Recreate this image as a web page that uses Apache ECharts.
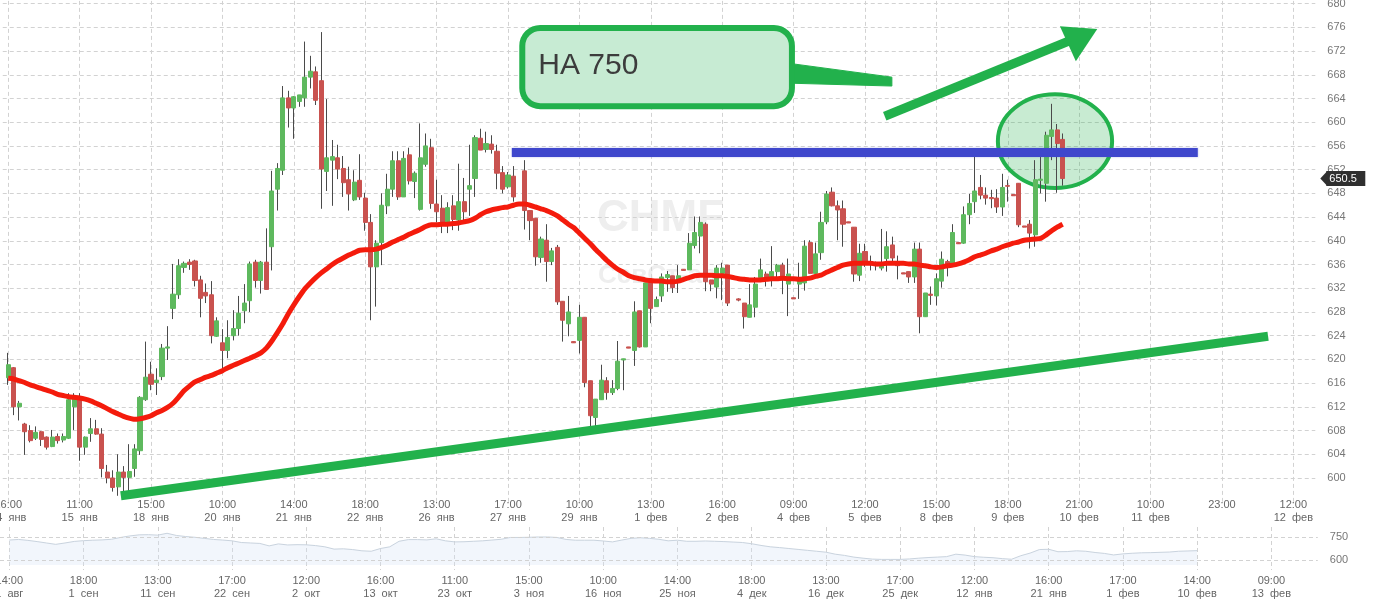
<!DOCTYPE html>
<html><head><meta charset="utf-8">
<script src="https://cdn.jsdelivr.net/npm/echarts@6/dist/echarts.min.js"></script>
<style>html,body{margin:0;padding:0;background:#fff}#c{width:1380px;height:604px}</style>
</head><body><div id="c"></div>
<script>
// ---- DATA ----
const opens = [616.9,618.6,612.0,609.1,608.0,606.7,607.8,606.9,605.3,607.0,
606.4,606.7,612.0,613.7,605.2,607.5,608.3,607.4,601.0,600.0,
598.5,601.0,600.1,601.6,604.6,613.2,617.5,616.1,617.1,621.9,
628.6,630.9,635.5,636.4,636.6,633.4,631.3,630.9,623.9,622.8,
621.5,624.0,625.2,628.2,629.9,636.4,633.3,636.4,639.0,648.7,
651.9,664.1,662.4,663.5,664.1,667.6,668.5,667.0,651.7,653.6,
654.0,652.2,650.3,646.9,650.2,647.2,643.1,635.6,639.7,645.9,
648.7,653.5,647.4,654.5,650.0,645.3,652.9,655.7,646.2,645.5,
643.2,645.9,643.5,646.6,648.7,650.5,657.3,655.4,656.3,655.1,
651.5,649.1,650.9,null,651.8,645.1,643.8,637.2,640.1,636.5,
638.9,629.8,626.0,623.0,623.2,627.1,616.4,610.2,613.2,616.4,
614.4,615.1,619.9,622.1,621.5,628.2,622.1,632.9,628.9,630.7,
633.8,634.1,633.2,635.2,635.1,639.2,640.8,642.8,633.4,632.2,
634.5,635.9,null,630.2,629.5,627.1,628.8,633.8,634.4,633.8,
634.8,635.9,632.7,630.4,632.7,632.9,639.7,634.5,638.0,643.2,
648.2,645.9,645.4,643.2,642.3,634.2,638.2,636.5,636.0,635.4,
637.0,639.3,636.5,634.6,634.8,633.9,638.6,627.2,631.0,630.7,
633.2,636.5,636.2,639.7,639.6,644.4,646.6,649.0,647.7,647.3,
647.2,645.7,649.3,647.8,649.7,642.5,642.8,641.0,650.2,649.7,
657.6,658.7,657.1];
const closes = [619.1,612.0,612.6,607.8,606.3,607.7,606.5,605.2,606.9,606.3,
607.0,613.2,613.4,605.2,606.9,608.3,607.4,601.6,600.0,598.4,
601.0,600.1,601.1,604.9,613.6,617.0,615.8,616.5,621.9,622.1,
631.0,635.8,636.2,636.0,633.3,630.3,630.7,624.0,626.5,621.5,
623.7,625.2,627.8,629.5,636.1,633.3,636.4,631.8,648.4,652.2,
664.1,662.4,664.3,664.6,667.6,668.6,663.7,652.1,654.0,654.2,
652.1,649.8,647.9,649.9,647.4,643.1,635.6,639.6,646.0,648.7,
653.5,647.4,653.9,650.1,651.4,654.0,656.0,646.3,644.9,643.1,
645.6,643.6,646.6,644.9,649.3,657.4,655.3,656.4,655.4,651.4,
648.7,651.1,647.4,null,645.1,643.4,637.3,640.3,636.5,638.3,
629.7,626.6,628.0,622.8,627.1,616.1,610.5,613.3,616.5,614.4,
615.1,619.7,620.1,621.9,628.0,622.1,632.9,628.6,630.1,633.9,
634.3,632.1,634.1,635.0,639.6,641.4,643.1,633.1,632.7,635.4,
635.4,629.5,null,630.0,627.2,629.2,632.7,635.1,633.8,634.8,
635.9,633.9,634.4,630.2,633.8,639.1,634.5,637.8,643.1,647.9,
645.9,645.2,642.8,643.0,634.4,637.9,636.5,636.0,635.8,636.0,
639.0,637.1,635.8,634.4,633.9,638.6,627.2,631.2,630.8,633.6,
636.9,635.9,641.4,639.5,644.4,646.3,648.4,647.7,647.2,647.1,
645.7,649.0,649.2,647.6,642.7,642.3,641.3,650.3,650.4,657.8,
658.7,656.4,650.5];
const lows = [615.7,610.6,609.7,603.9,606.0,606.4,605.4,604.8,605.2,605.8,
606.0,606.6,608.1,602.9,603.9,606.1,607.3,600.1,599.1,597.7,
597.0,597.0,597.0,600.2,603.9,613.0,614.8,614.0,616.5,619.9,
626.8,630.2,634.6,635.1,632.3,627.1,629.5,622.7,623.8,618.2,
620.2,623.2,624.0,626.1,628.0,632.1,631.1,631.8,635.0,645.1,
651.1,659.1,657.2,662.6,662.6,665.7,662.9,645.4,648.4,645.9,
650.4,647.4,645.1,646.7,646.9,641.7,626.6,628.9,635.9,644.5,
647.4,646.9,647.4,649.5,647.2,645.1,652.5,645.4,643.1,641.3,
641.3,641.8,641.7,643.0,644.2,647.4,655.3,654.9,654.7,648.7,
648.0,648.8,646.6,null,641.9,640.1,635.8,636.3,633.1,635.9,
629.2,623.0,623.9,622.8,621.0,615.3,608.7,608.4,613.2,613.2,
614.0,614.8,614.8,621.9,618.9,622.0,622.1,626.1,628.9,629.7,
631.4,631.2,631.2,635.0,635.1,638.7,637.9,631.5,631.5,630.3,
630.0,629.0,null,629.8,625.2,627.1,627.1,633.4,632.3,632.3,
633.5,631.0,627.3,630.2,630.2,631.6,634.4,633.9,636.8,642.8,
645.8,640.1,639.0,643.0,633.1,633.2,635.6,635.0,635.0,635.0,
634.8,636.3,633.5,634.4,632.9,632.9,624.4,627.2,629.2,629.1,
632.1,634.0,635.6,639.5,639.5,642.8,644.7,647.0,646.1,645.5,
644.7,644.2,646.6,647.6,642.3,642.3,638.7,639.0,648.0,646.6,
653.6,648.1,649.3];
const highs = [621.1,618.7,613.0,609.3,608.9,608.7,607.9,607.0,608.1,607.5,
607.5,614.3,614.3,614.3,607.0,610.1,609.8,608.4,602.2,601.3,
604.0,602.0,605.7,605.7,613.8,623.0,619.6,618.5,622.6,625.6,
636.1,636.9,636.5,636.9,636.8,634.1,632.8,633.2,627.1,625.1,
626.6,628.3,630.7,632.7,636.5,636.8,636.6,642.1,651.8,653.1,
666.1,665.3,664.4,664.6,673.6,671.2,669.4,675.2,663.9,657.0,
656.2,654.3,652.5,651.9,654.6,648.1,644.5,640.1,648.0,651.3,
655.1,655.1,655.1,655.7,651.7,659.8,658.1,657.2,650.3,647.7,
646.5,647.7,653.0,650.6,656.2,657.8,658.9,658.4,657.8,656.2,
652.6,651.6,652.6,null,653.6,645.1,643.8,640.7,642.8,638.8,
639.3,629.8,630.7,623.0,629.2,627.1,616.4,613.3,619.1,617.0,
616.5,623.1,620.1,622.1,629.8,628.2,632.9,632.9,630.6,634.5,
634.9,634.1,635.9,635.2,641.3,644.1,644.1,643.1,633.4,635.9,
636.3,635.9,null,630.3,629.5,632.7,633.9,637.0,634.8,639.1,
636.1,636.3,637.0,630.4,636.3,640.1,640.1,639.7,644.9,648.4,
649.0,646.8,646.8,643.2,642.3,639.5,639.5,637.5,636.5,642.0,
641.6,640.7,637.5,634.6,634.8,639.7,639.7,631.2,632.3,634.5,
638.2,636.8,642.8,639.7,645.8,647.9,654.2,651.1,649.0,648.6,
648.7,651.3,650.3,647.8,649.7,642.5,643.5,653.6,654.2,658.4,
663.1,659.7,658.1];
const maValues = [616.8,616.7,616.4,616.1,615.7,615.4,615.1,614.8,614.5,614.1,
613.9,613.7,613.6,613.5,613.3,613.0,612.6,612.2,611.7,611.2,
610.8,610.4,610.1,609.9,610.0,610.2,610.5,611.0,611.4,611.9,
612.6,613.6,614.7,615.5,616.2,616.6,617.0,617.3,617.7,618.1,
618.6,619.0,619.4,619.8,620.2,620.6,621.1,621.9,623.1,624.5,
626.0,627.7,629.2,630.6,631.9,632.9,633.8,634.6,635.3,636.0,
636.6,637.1,637.6,638.0,638.4,638.5,638.5,638.6,638.9,639.3,
639.8,640.2,640.6,641.1,641.5,641.9,642.4,642.7,642.7,642.8,
642.8,642.9,643.0,643.2,643.4,643.8,644.4,644.9,645.2,645.4,
645.6,645.7,646.0,646.2,646.2,646.0,645.7,645.4,645.1,644.7,
644.2,643.5,642.8,642.2,641.3,640.4,639.5,638.5,637.6,636.7,
635.9,635.2,634.7,634.1,633.8,633.6,633.4,633.3,633.2,633.2,
633.1,633.1,633.2,633.5,633.8,634.1,634.2,634.2,634.2,634.1,
634.1,634.0,633.8,633.6,633.5,633.4,633.4,633.4,633.5,633.6,
633.6,633.7,633.6,633.6,633.5,633.6,633.7,634.0,634.2,634.7,
635.1,635.5,635.9,636.1,636.2,636.2,636.2,636.2,636.1,636.1,
636.2,636.2,636.2,636.2,636.1,636.1,635.9,635.8,635.6,635.5,
635.6,635.8,635.9,636.1,636.4,636.8,637.3,637.6,637.9,638.3,
638.6,639.0,639.3,639.6,639.8,640.1,640.2,640.3,640.4,641.0,
641.7,642.3,642.8];
const xTickLabels = ["16:00\n14  янв","11:00\n15  янв","15:00\n18  янв","10:00\n20  янв","14:00\n21  янв",
"18:00\n22  янв","13:00\n26  янв","17:00\n27  янв","10:00\n29  янв","13:00\n1  фев","16:00\n2  фев",
"09:00\n4  фев","12:00\n5  фев","15:00\n8  фев","18:00\n9  фев","21:00\n10  фев","10:00\n11  фев",
"23:00","12:00\n12  фев"];
const navValues = [730,734,728,720,711,702,711,721,726,729,
731,735,747,757,764,765,762,774,760,753,
748,741,734,730,725,714,711,708,692,705,
698,700,699,694,686,671,673,668,660,657,
675,686,722,733,733,731,738,725,718,719,
722,725,730,735,747,747,748,750,750,747,
734,729,729,729,724,718,730,741,745,741,
735,725,729,722,722,724,722,720,717,714,
706,695,686,681,675,669,663,657,651,638,
630,619,612,606,604,604,604,607,612,616,
619,622,638,632,622,618,615,609,605,628,
645,668,670,654,655,660,657,649,643,633,
640,644,647,648,650,652,657,659,661];
const navTickLabels = ["14:00\n1  авг","18:00\n1  сен","13:00\n11  сен","17:00\n22  сен","12:00\n2  окт",
"16:00\n13  окт","11:00\n23  окт","15:00\n3  ноя","10:00\n16  ноя","14:00\n25  ноя","18:00\n4  дек",
"13:00\n16  дек","17:00\n25  дек","12:00\n12  янв","16:00\n21  янв","17:00\n1  фев","14:00\n10  фев","09:00\n13  фев"];
const navGuideValues = [750, 600];
const lastPrice = 650.5;
// annotations: [candle index, price]
const trendLine = [[20.5, 597.0], [229.4, 623.9]];
const resistanceLine = [[91.7, 654.9], [216.6, 654.9]];
const circleMark = [190.6, 656.8, 10.4, 7.9];
const calloutBox = [93.6, 675.9, 142.7, 662.7];
const calloutTail = [[141.6, 670.0], [160.9, 667.6], [160.9, 666.1], [141.6, 666.6]];
const calloutText = "НА 750";
const arrowShaft = [[159.6, 661.0], [193.7, 673.9]];
const arrowHead = [[191.5, 676.2], [198.3, 675.7], [194.4, 670.3]];
const watermarkTicker = "CHMF";
const watermarkName = "СевСт-ао";

// ---- BUILD ----
const N_MAIN = 240, LABEL_STEP = 13, X_MAX = 238;
const mainCats = [], wickData = [], bodyData = [], maData = [];
for (let i = 0; i < N_MAIN; i++) {
  mainCats.push('c' + i);
  const j = i - 1;
  if (j >= 0 && j < opens.length && opens[j] != null) {
    wickData.push([opens[j], closes[j], lows[j], highs[j]]);
    bodyData.push([opens[j], closes[j], Math.min(opens[j], closes[j]), Math.max(opens[j], closes[j])]);
  } else {
    wickData.push(['-', '-', '-', '-']);
    bodyData.push(['-', '-', '-', '-']);
  }
  maData.push(j >= 0 && j < maValues.length ? maValues[j] : null);
}
const N_NAV = 143, NAV_STEP = 8;
const navCats = [], navData = [];
for (let i = 0; i < N_NAV; i++) {
  navCats.push('n' + i);
  const j = i - 1;
  navData.push(j >= 0 && j < navValues.length ? navValues[j] : null);
}
const mainLabelShow = (idx) => idx >= 1 && (idx - 1) % LABEL_STEP === 0;
const navLabelShow = (idx) => idx >= 1 && (idx - 1) % NAV_STEP === 0;
const FONT = '"Liberation Sans", Arial, sans-serif';
const GREEN = '#22b14c';
const gridDash = { type: [4, 3], color: '#d2d2d2', width: 1 };

const chart = echarts.init(document.getElementById('c'), null, { renderer: 'canvas' });
chart.setOption({
  animation: false,
  backgroundColor: '#ffffff',
  textStyle: { fontFamily: FONT },
  graphic: [
    { type: 'text', left: 597, top: 197, z: -10, silent: true,
      style: { text: watermarkTicker, font: 'bold 44px ' + FONT, fill: '#eeeeee' } },
    { type: 'text', left: 598, top: 263, z: -10, silent: true,
      style: { text: watermarkName, font: 'bold 26px ' + FONT, fill: '#eeeeee' } }
  ],
  grid: [
    { left: 2.75, right: 64.7, top: -20.1, bottom: 102.3, outerBoundsMode: 'none', containLabel: false },
    { left: 0, right: 62.2, top: 527, bottom: 34, outerBoundsMode: 'none', containLabel: false }
  ],
  xAxis: [
    { type: 'category', gridIndex: 0, data: mainCats, boundaryGap: false,
      axisLine: { show: false }, axisTick: { show: false },
      axisLabel: { interval: mainLabelShow, margin: -3, color: '#666', fontSize: 11, lineHeight: 13,
        formatter: (v, idx) => xTickLabels[(idx - 1) / LABEL_STEP] || '' },
      splitLine: { show: true, interval: mainLabelShow, lineStyle: gridDash } },
    { type: 'value', gridIndex: 0, min: -1, max: X_MAX, show: false },
    { type: 'category', gridIndex: 1, data: navCats, boundaryGap: false,
      axisLine: { show: false }, axisTick: { show: false },
      axisLabel: { interval: navLabelShow, margin: 4, color: '#666', fontSize: 11, lineHeight: 13,
        formatter: (v, idx) => navTickLabels[(idx - 1) / NAV_STEP] || '' },
      splitLine: { show: true, interval: navLabelShow, lineStyle: gridDash } }
  ],
  yAxis: [
    { type: 'value', gridIndex: 0, position: 'right', min: 596, max: 684, interval: 4, scale: true,
      axisLine: { show: false }, axisTick: { show: false },
      axisLabel: { margin: 12, color: '#777', fontSize: 11, showMinLabel: false, showMaxLabel: false },
      splitLine: { show: true, showMinLine: false, showMaxLine: false, lineStyle: gridDash } },
    { type: 'value', gridIndex: 1, position: 'right', min: 535, max: 815, show: false }
  ],
  series: [
    { name: 'wick', type: 'candlestick', xAxisIndex: 0, yAxisIndex: 0, data: wickData, barWidth: 1,
      itemStyle: { color: '#4a4a4a', color0: '#4a4a4a', borderColor: '#4a4a4a', borderColor0: '#4a4a4a', borderWidth: 1 },
      silent: true },
    { name: 'body', type: 'candlestick', xAxisIndex: 0, yAxisIndex: 0, data: bodyData, barWidth: 4.6,
      itemStyle: { color: '#5eb95e', color0: '#c9524f', borderColor: '#5eb95e', borderColor0: '#c9524f', borderWidth: 1 },
      silent: true },
    { name: 'MA', type: 'line', xAxisIndex: 0, yAxisIndex: 0, data: maData, symbol: 'none', smooth: 0.2,
      lineStyle: { color: '#f41b0c', width: 5 }, silent: true },
    { name: 'trend', type: 'line', xAxisIndex: 1, yAxisIndex: 0, data: trendLine, symbol: 'none', clip: false,
      lineStyle: { color: GREEN, width: 9, cap: 'butt' }, silent: true },
    { name: 'resistance', type: 'line', xAxisIndex: 1, yAxisIndex: 0, data: resistanceLine, symbol: 'none',
      lineStyle: { color: '#3f47cc', width: 9, cap: 'butt', shadowColor: 'rgba(63,71,204,0.35)', shadowBlur: 2 }, silent: true },
    { name: 'circle', type: 'custom', xAxisIndex: 1, yAxisIndex: 0, data: [circleMark], silent: true,
      renderItem: (p, api) => {
        const c = api.coord([api.value(0), api.value(1)]);
        const s = api.size([api.value(2), api.value(3)]);
        return { type: 'ellipse', shape: { cx: c[0], cy: c[1], rx: s[0], ry: s[1] },
          style: { fill: 'rgba(34,177,76,0.25)', stroke: GREEN, lineWidth: 4 } };
      } },
    { name: 'callout', type: 'custom', xAxisIndex: 1, yAxisIndex: 0, data: [calloutBox], silent: true,
      renderItem: (p, api) => {
        const a = api.coord([api.value(0), api.value(1)]);
        const b = api.coord([api.value(2), api.value(3)]);
        const tail = calloutTail.map(q => api.coord(q));
        return { type: 'group', children: [
          { type: 'polygon', shape: { points: tail }, style: { fill: GREEN, stroke: GREEN, lineWidth: 1 } },
          { type: 'rect', shape: { x: a[0], y: a[1], width: b[0] - a[0], height: b[1] - a[1], r: 18 },
            style: { fill: '#c7ebd3', stroke: GREEN, lineWidth: 6 } },
          { type: 'text', x: a[0] + 16, y: (a[1] + b[1]) / 2 - 1,
            style: { text: calloutText, font: '30px ' + FONT, fill: '#3c3c3c', verticalAlign: 'middle', align: 'left' } }
        ] };
      } },
    { name: 'arrow', type: 'custom', xAxisIndex: 1, yAxisIndex: 0, data: [arrowShaft[0]], silent: true,
      renderItem: (p, api) => {
        const s0 = api.coord(arrowShaft[0]), s1 = api.coord(arrowShaft[1]);
        const head = arrowHead.map(q => api.coord(q));
        return { type: 'group', children: [
          { type: 'line', shape: { x1: s0[0], y1: s0[1], x2: s1[0], y2: s1[1] }, style: { stroke: GREEN, lineWidth: 9 } },
          { type: 'polygon', shape: { points: head }, style: { fill: GREEN } }
        ] };
      } },
    { name: 'priceTag', type: 'custom', xAxisIndex: 1, yAxisIndex: 0, data: [[X_MAX, lastPrice]], silent: true,
      clip: false, z: 10,
      renderItem: (p, api) => {
        const e = api.coord([api.value(0), api.value(1)]);
        const x0 = e[0] + 5, y = e[1];
        return { type: 'group', children: [
          { type: 'polygon', shape: { points: [[x0, y], [x0 + 7, y - 7.5], [x0 + 7, y + 7.5]] }, style: { fill: '#2f2f2f' } },
          { type: 'rect', shape: { x: x0 + 6, y: y - 7.5, width: 39, height: 15 }, style: { fill: '#2f2f2f' } },
          { type: 'text', x: x0 + 9, y: y + 0.5,
            style: { text: String(lastPrice), font: '11px ' + FONT, fill: '#ffffff', verticalAlign: 'middle', align: 'left' } }
        ] };
      } },
    { name: 'navGuides', type: 'line', xAxisIndex: 2, yAxisIndex: 1, data: navCats.map(() => null), z: 1,
      symbol: 'none', silent: true,
      markLine: { silent: true, symbol: 'none', lineStyle: { type: [4, 3], color: '#d2d2d2', width: 1 },
        label: { position: 'end', distance: 12, color: '#777', fontSize: 11, formatter: (p) => String(p.value) },
        data: navGuideValues.map(v => ({ yAxis: v })) } },
    { name: 'nav', type: 'line', xAxisIndex: 2, yAxisIndex: 1, data: navData, symbol: 'none', silent: true,
      lineStyle: { color: '#c9d3de', width: 1 },
      areaStyle: { color: 'rgba(214,228,244,0.45)', origin: 567 } }
  ]
});
</script></body></html>
